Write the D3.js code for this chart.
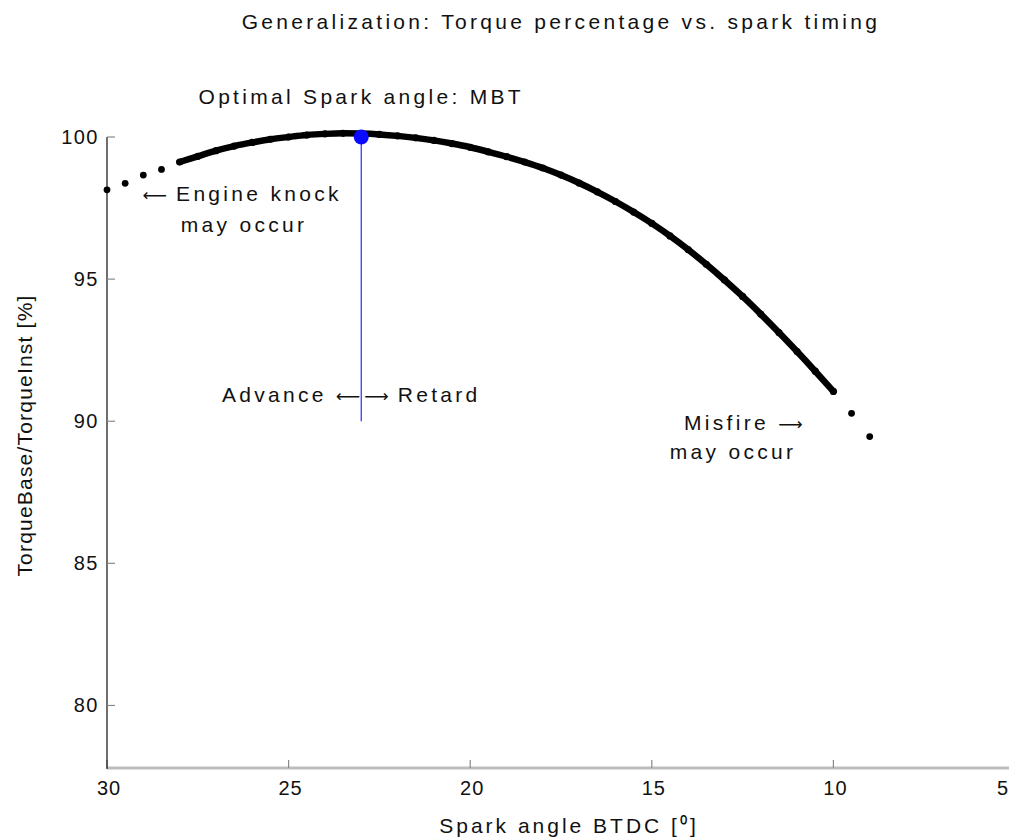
<!DOCTYPE html>
<html>
<head>
<meta charset="utf-8">
<script src="https://cdn.jsdelivr.net/npm/d3@7"></script>
<style>
  html, body { margin: 0; padding: 0; background: #fff; }
  svg { display: block; }
  text { font-family: "Liberation Sans", Arial, sans-serif; fill: #111; }
  tspan.arrow { font-family: "DejaVu Sans", sans-serif; letter-spacing: 0; }
</style>
</head>
<body>
<svg id="chart" width="1009" height="839"></svg>
<script>
// Spark angle before top dead centre [deg] and relative torque [%]
const knockAngles   = [30, 29.5, 29, 28.5];
const knockTorque   = [98.14, 98.37, 98.66, 98.86];

const curveAngles = [28, 27.5, 27, 26.5, 26, 25.5, 25, 24.5, 24, 23.5, 23, 22.5, 22, 21.5, 21,
                     20.5, 20, 19.5, 19, 18.5, 18, 17.5, 17, 16.5, 16, 15.5, 15, 14.5, 14, 13.5,
                     13, 12.5, 12, 11.5, 11, 10.5, 10];
const curveTorque = [99.12, 99.32, 99.52, 99.68, 99.81, 99.92, 100.0, 100.07, 100.11, 100.13,
                     100.12, 100.09, 100.04, 99.97, 99.88, 99.77, 99.64, 99.48, 99.31, 99.12,
                     98.91, 98.66, 98.38, 98.07, 97.73, 97.36, 96.96, 96.52, 96.04, 95.52,
                     94.97, 94.39, 93.77, 93.12, 92.45, 91.76, 91.05];

const misfireAngles = [9.5, 9];
const misfireTorque = [90.28, 89.46];

const mbtAngle = 23;
const mbtTorque = 100;
const mbtLineBottom = 90;

const xTicks = [30, 25, 20, 15, 10, 5];
const yTicks = [80, 85, 90, 95, 100];

const svg = d3.select("#chart");
const W = 1009;

const x = d3.scaleLinear().domain([30, 5]).range([107, 1015]);
const y = d3.scaleLinear().domain([77.8, 100]).range([768, 137]);

const FS = 21;      // general font size
const LS = "3.3px"; // letter spacing of the rendered text

// Title
svg.append("text")
  .attr("x", (x(30) + x(5)) / 2).attr("y", 29)
  .attr("text-anchor", "middle")
  .style("font-size", FS + "px").style("letter-spacing", LS)
  .text("Generalization: Torque percentage vs. spark timing");

// X axis (grey baseline with inward ticks)
const xAxis = svg.append("g").attr("transform", `translate(0,${y(77.8)})`);
xAxis.append("line")
  .attr("x1", x(30)).attr("x2", W)
  .attr("stroke", "#bdbdbd").attr("stroke-width", 3);
xAxis.selectAll("line.tick").data(xTicks).join("line")
  .attr("class", "tick")
  .attr("x1", d => x(d)).attr("x2", d => x(d))
  .attr("y1", 0).attr("y2", -8)
  .attr("stroke", "#8a8a8a").attr("stroke-width", 1.2);
xAxis.selectAll("text.tl").data(xTicks).join("text")
  .attr("class", "tl")
  .attr("x", d => Math.min(x(d) + 2, W - 6))
  .attr("y", 27)
  .attr("text-anchor", "middle")
  .style("font-size", "20px").style("letter-spacing", "1px")
  .text(d => d);

// Y axis (black line with inward grey ticks)
const yAxis = svg.append("g").attr("transform", `translate(${x(30)},0)`);
yAxis.append("line")
  .attr("y1", y(100)).attr("y2", y(77.8) + 1)
  .attr("stroke", "#222").attr("stroke-width", 1.3);
yAxis.selectAll("line.tick").data(yTicks).join("line")
  .attr("class", "tick")
  .attr("y1", d => y(d)).attr("y2", d => y(d))
  .attr("x1", 0).attr("x2", 8)
  .attr("stroke", "#8a8a8a").attr("stroke-width", 1.2);
yAxis.selectAll("text.tl").data(yTicks).join("text")
  .attr("class", "tl")
  .attr("x", -8).attr("y", d => y(d) + 7)
  .attr("text-anchor", "end")
  .style("font-size", "20px").style("letter-spacing", "1.5px")
  .text(d => d);

// Axis titles
svg.append("text")
  .attr("x", 569).attr("y", 833)
  .attr("text-anchor", "middle")
  .style("font-size", FS + "px").style("letter-spacing", "3px")
  .text("Spark angle BTDC [⁰]");
svg.append("text")
  .attr("transform", `translate(32,${(y(100) + y(77.8)) / 2 - 17}) rotate(-90)`)
  .attr("text-anchor", "middle")
  .style("font-size", FS + "px").style("letter-spacing", "1.2px")
  .text("TorqueBase/TorqueInst [%]");

// MBT vertical marker
svg.append("line")
  .attr("x1", x(mbtAngle)).attr("x2", x(mbtAngle))
  .attr("y1", y(mbtTorque)).attr("y2", y(mbtLineBottom))
  .attr("stroke", "#2a2aff").attr("stroke-width", 1.2);

// Torque curve: dense, heavy dotted line in the normal operating band
const curveData = curveAngles.map((a, i) => [a, curveTorque[i]]);
svg.append("path")
  .datum(curveData)
  .attr("d", d3.line().x(d => x(d[0])).y(d => y(d[1])).curve(d3.curveMonotoneX))
  .attr("fill", "none").attr("stroke", "#000").attr("stroke-width", 6.5)
  .attr("stroke-linecap", "round");
svg.selectAll("circle.cp").data(curveData).join("circle")
  .attr("class", "cp")
  .attr("cx", d => x(d[0])).attr("cy", d => y(d[1]))
  .attr("r", 3.6).attr("fill", "#000");

// Sparse points in the knock and misfire regions
const sparse = knockAngles.map((a, i) => [a, knockTorque[i]])
  .concat(misfireAngles.map((a, i) => [a, misfireTorque[i]]));
svg.selectAll("circle.sp").data(sparse).join("circle")
  .attr("class", "sp")
  .attr("cx", d => x(d[0])).attr("cy", d => y(d[1]))
  .attr("r", 3.4).attr("fill", "#000");

// MBT point
svg.append("circle")
  .attr("cx", x(mbtAngle)).attr("cy", y(mbtTorque))
  .attr("r", 7.5).attr("fill", "#0a0aff");

// Annotations; arrows are set in a font with long arrow glyphs
function note(parts, px, py, anchor) {
  const t = svg.append("text")
    .attr("x", px).attr("y", py)
    .attr("text-anchor", anchor)
    .style("font-size", FS + "px").style("letter-spacing", LS);
  parts.forEach(p => {
    const isArrow = p === "⟵" || p === "⟶";
    t.append("tspan").attr("class", isArrow ? "arrow" : null)
      .style("font-size", isArrow ? "17px" : null)
      .text(p);
  });
}
note(["Optimal Spark angle: MBT"], x(mbtAngle), y(100) - 33, "middle");
note(["⟵", " Engine knock"], x(29.02), 201, "start");
note(["may occur"], x(27.97), 232, "start");
note(["Advance ", "⟵"], x(mbtAngle) - 1, 402, "end");
note(["⟶", " Retard"], x(mbtAngle) + 3, 402, "start");
note(["Misfire ", "⟶"], x(10.85), 430, "end");
note(["may occur"], x(11.02), 459, "end");
</script>
</body>
</html>
